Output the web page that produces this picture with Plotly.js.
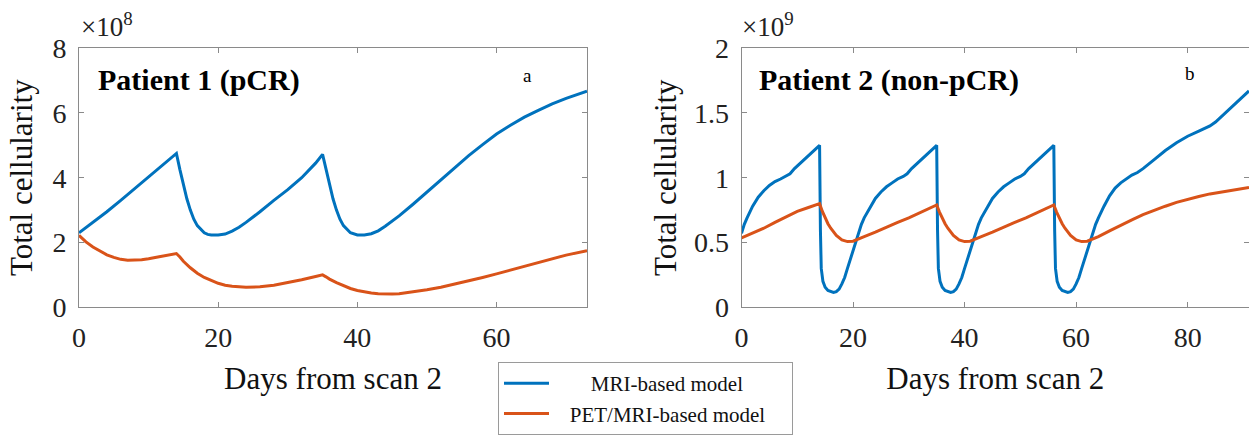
<!DOCTYPE html>
<html>
<head>
<meta charset="utf-8">
<script src="https://cdn.plot.ly/plotly-3.0.1.min.js"></script>
<style>html,body{margin:0;padding:0;background:#fff;}#chart{width:1249px;height:435px;}</style>
</head>
<body>
<div id="chart"></div>
<script>
// Patient 1 (pCR) — values in units of 1e8 cells
const p1Days_MRI = [0,2,4,6,8,10,12,14,14.5,15,15.5,16,16.5,17,17.5,18,18.5,19,20,21,22,23,24,25,26,28,30,32,34,35,35.5,36,36.5,37,37.5,38,38.5,39,40,41,42,43,44,45,46,48,50,52,54,56,58,60,62,64,66,68,70,72,73];
const p1_MRI = [2.30,2.62,2.95,3.30,3.67,4.02,4.38,4.75,4.25,3.80,3.35,3.00,2.72,2.52,2.40,2.30,2.25,2.23,2.23,2.26,2.35,2.47,2.62,2.78,2.95,3.30,3.63,4.00,4.45,4.72,4.25,3.78,3.35,3.00,2.72,2.52,2.40,2.30,2.23,2.23,2.27,2.36,2.50,2.65,2.82,3.18,3.56,3.93,4.30,4.68,5.02,5.35,5.62,5.87,6.08,6.28,6.45,6.60,6.67];
const p1Days_PET = [0,1,2,3,4,5,6,7,8,9,10,12,14,14.5,15,16,17,18,19,20,21,22,24,26,28,30,32,34,35,35.5,36,37,38,39,40,41,42,43,44,45,46,48,50,52,55,58,60,62,65,68,70,73];
const p1_PET = [2.22,2.02,1.86,1.73,1.62,1.54,1.48,1.45,1.45,1.47,1.50,1.57,1.66,1.55,1.42,1.22,1.05,0.92,0.82,0.74,0.68,0.65,0.62,0.63,0.68,0.76,0.85,0.95,1.00,0.94,0.87,0.76,0.66,0.58,0.52,0.47,0.44,0.42,0.41,0.41,0.42,0.47,0.54,0.62,0.76,0.92,1.03,1.15,1.33,1.50,1.61,1.75];

// Patient 2 (non-pCR) — values in units of 1e9 cells
const p2Days_MRI = [0,0.5,1,1.5,2,3,4,5,6,7,8,8.7,9.5,10.5,11.5,12.5,13.5,14,14.15,14.3,14.6,15,15.5,16,16.5,17,17.5,18,18.5,19,19.5,20,20.5,21,21.5,22,23,24,25,26,27,28,29,29.7,30.5,31.5,32.5,33.5,34.5,35,35.15,35.3,35.6,36,36.5,37,37.5,38,38.5,39,39.5,40,40.5,41,41.5,42,42.5,43,44,45,46,47,48,49,50,50.7,51.5,52.5,53.5,54.5,55.5,56,56.15,56.3,56.6,57,57.5,58,58.5,59,59.5,60,60.5,61,61.5,62,62.5,63,63.5,64,64.5,65,66,67,68,69,70,71,72,74,76,78,80,82,84,85,86,88,90,91];
const p2_MRI = [0.57,0.64,0.69,0.74,0.78,0.85,0.90,0.94,0.97,0.99,1.01,1.03,1.07,1.11,1.15,1.19,1.23,1.25,0.60,0.30,0.20,0.155,0.13,0.12,0.115,0.12,0.14,0.18,0.23,0.30,0.37,0.44,0.51,0.58,0.64,0.69,0.77,0.84,0.89,0.93,0.96,0.99,1.01,1.03,1.07,1.11,1.15,1.19,1.23,1.25,0.60,0.30,0.20,0.155,0.13,0.12,0.115,0.12,0.14,0.18,0.23,0.30,0.37,0.44,0.51,0.58,0.64,0.69,0.77,0.84,0.89,0.93,0.96,0.99,1.01,1.03,1.07,1.11,1.15,1.19,1.23,1.25,0.60,0.30,0.20,0.155,0.13,0.12,0.115,0.12,0.14,0.18,0.23,0.30,0.37,0.44,0.51,0.58,0.64,0.69,0.74,0.78,0.86,0.92,0.96,0.99,1.02,1.04,1.07,1.14,1.21,1.27,1.32,1.36,1.40,1.43,1.47,1.55,1.63,1.67];
const p2Days_PET = [0,2,4,6,8,10,12,14,14.5,15,15.5,16,16.5,17,18,19,20,21,22,24,26,28,30,32,34,35,35.5,36,36.5,37,37.5,38,39,40,41,42,43,45,47,49,51,53,55,56,56.5,57,57.5,58,58.5,59,60,61,62,63,64,66,68,70,72,74,76,78,80,82,84,86,88,90,91];
const p2_PET = [0.535,0.57,0.61,0.655,0.70,0.74,0.77,0.80,0.74,0.69,0.645,0.61,0.58,0.555,0.52,0.507,0.51,0.525,0.545,0.58,0.62,0.655,0.69,0.73,0.765,0.79,0.735,0.685,0.645,0.61,0.58,0.555,0.52,0.507,0.51,0.525,0.545,0.58,0.62,0.655,0.69,0.73,0.765,0.79,0.735,0.685,0.645,0.61,0.58,0.555,0.52,0.507,0.51,0.525,0.545,0.59,0.635,0.675,0.715,0.75,0.78,0.81,0.835,0.855,0.875,0.89,0.905,0.92,0.925];

const seriesNames = ["MRI-based model", "PET/MRI-based model"];
const xTitle = "Days from scan 2";
const yTitle = "Total cellularity";
const panelLabels = ["Patient 1 (pCR)", "Patient 2 (non-pCR)"];
const panelLetters = ["a", "b"];
const exponents = ["×10<sup>8</sup>", "×10<sup>9</sup>"];
const yTicks1 = [0,2,4,6,8];
const yTicks2 = [0,0.5,1,1.5,2];
const yTickText2 = ["0","0.5","1","1.5","2"];
const xTicks1 = [0,20,40,60];
const xTicks2 = [0,20,40,60,80];

const BLUE = "#0072BD", ORANGE = "#D95319";
const FONT = "Liberation Serif";
const W = 1249, H = 435;
const px = v => v / W, py = v => 1 - v / H;
const NB = "\u00a0";
// legend labels padded so that they sit centred in the box like the reference
const legendLabels = [NB.repeat(7) + seriesNames[0], NB.repeat(3) + seriesNames[1] + NB.repeat(4)];

const traces = [
  {x: p1Days_MRI, y: p1_MRI, xaxis: "x", yaxis: "y", name: legendLabels[0], legendgroup: "m", mode: "lines", line: {color: BLUE, width: 3}},
  {x: p1Days_PET, y: p1_PET, xaxis: "x", yaxis: "y", name: legendLabels[1], legendgroup: "p", mode: "lines", line: {color: ORANGE, width: 3}},
  {x: p2Days_MRI, y: p2_MRI, xaxis: "x2", yaxis: "y2", name: legendLabels[0], legendgroup: "m", showlegend: false, mode: "lines", line: {color: BLUE, width: 3}},
  {x: p2Days_PET, y: p2_PET, xaxis: "x2", yaxis: "y2", name: legendLabels[1], legendgroup: "p", showlegend: false, mode: "lines", line: {color: ORANGE, width: 3}}
];

const tickFont = {family: FONT, size: 28, color: "#222"};
const titleFont = {family: FONT, size: 31, color: "#111"};
const axisCommon = {
  showline: true, linecolor: "#8a8a8a", linewidth: 1, mirror: "ticks",
  ticks: "inside", ticklen: 5, tickcolor: "#8a8a8a", tickwidth: 1,
  showgrid: false, zeroline: false, fixedrange: true,
  tickfont: tickFont
};

const layout = {
  width: W, height: H,
  margin: {l: 0, r: 0, t: 0, b: 0},
  paper_bgcolor: "#fff", plot_bgcolor: "#fff",
  font: {family: FONT, color: "#111"},
  xaxis: Object.assign({}, axisCommon, {domain: [px(79), px(587)], range: [0, 73], tickvals: xTicks1, ticklabelstandoff: 5,
    anchor: "y", title: {text: xTitle, font: titleFont, standoff: 15}}),
  yaxis: Object.assign({}, axisCommon, {domain: [py(319), py(50)], range: [0, 8], tickvals: yTicks1, ticklabelstandoff: 6,
    anchor: "x", title: {text: yTitle, font: titleFont, standoff: 10}}),
  xaxis2: Object.assign({}, axisCommon, {domain: [px(741.5), px(1249)], range: [0, 91], tickvals: xTicks2, ticklabelstandoff: 5,
    anchor: "y2", title: {text: xTitle, font: titleFont, standoff: 15}}),
  yaxis2: Object.assign({}, axisCommon, {domain: [py(319), py(50)], range: [0, 2], tickvals: yTicks2, ticktext: yTickText2, ticklabelstandoff: 6,
    anchor: "x2", title: {text: yTitle, font: titleFont, standoff: 8}}),
  showlegend: true,
  legend: {
    x: px(498), y: py(376), xanchor: "left", yanchor: "top",
    bordercolor: "#9a9a9a", borderwidth: 1, bgcolor: "#fff",
    font: {family: FONT, size: 21, color: "#111"},
    itemwidth: 45, tracegroupgap: 0
  },
  annotations: [
    {xref: "paper", yref: "paper", x: px(96), y: py(83), xanchor: "left", yanchor: "middle", showarrow: false,
     text: "<b>" + panelLabels[0] + "</b>", font: {family: FONT, size: 30, color: "#000"}},
    {xref: "paper", yref: "paper", x: px(757), y: py(83), xanchor: "left", yanchor: "middle", showarrow: false,
     text: "<b>" + panelLabels[1] + "</b>", font: {family: FONT, size: 30, color: "#000"}},
    {xref: "paper", yref: "paper", x: px(527), y: py(78), xanchor: "center", yanchor: "middle", showarrow: false,
     text: panelLetters[0], font: {family: FONT, size: 19, color: "#000"}},
    {xref: "paper", yref: "paper", x: px(1190), y: py(76), xanchor: "center", yanchor: "middle", showarrow: false,
     text: panelLetters[1], font: {family: FONT, size: 19, color: "#000"}},
    {xref: "paper", yref: "paper", x: px(79), y: py(46), xanchor: "left", yanchor: "bottom", showarrow: false,
     text: exponents[0], font: {family: FONT, size: 27, color: "#222"}},
    {xref: "paper", yref: "paper", x: px(740), y: py(46), xanchor: "left", yanchor: "bottom", showarrow: false,
     text: exponents[1], font: {family: FONT, size: 27, color: "#222"}}
  ]
};

Plotly.newPlot("chart", traces, layout, {staticPlot: true, displayModeBar: false});
</script>
</body>
</html>
